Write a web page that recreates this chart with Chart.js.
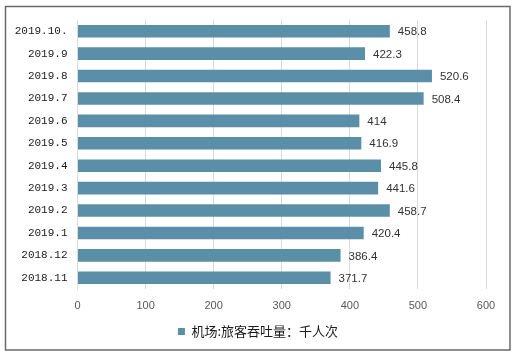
<!DOCTYPE html>
<html><head><meta charset="utf-8">
<script src="https://cdn.jsdelivr.net/npm/chart.js@4/dist/chart.umd.min.js"></script>
<style>html,body{margin:0;padding:0;background:#fff}#w{width:516px;height:358px}</style>
</head><body><div id="w"><canvas id="c" width="516" height="358"></canvas></div>
<script>
const categories = ["2019.10.","2019.9","2019.8","2019.7","2019.6","2019.5","2019.4","2019.3","2019.2","2019.1","2018.12","2018.11"];
const values = [458.8,422.3,520.6,508.4,414,416.9,445.8,441.6,458.7,420.4,386.4,371.7];
const valueLabels = ["458.8","422.3","520.6","508.4","414","416.9","445.8","441.6","458.7","420.4","386.4","371.7"];
const seriesName = "机场:旅客吞吐量：千人次";
const xTicks = [0,100,200,300,400,500,600];

const frame = {
  id:'frame',
  beforeDraw(chart){
    const ctx=chart.ctx; ctx.save();
    ctx.fillStyle='#fff'; ctx.fillRect(0,0,chart.width,chart.height);
    ctx.strokeStyle='#6a6a6a'; ctx.lineWidth=1.5;
    ctx.strokeRect(5.5,6.5,504.5,343.5);
    ctx.restore();
    // center legend on the whole canvas instead of the padded area
    const lg = chart.legend;
    if (lg && !lg._shifted) { lg.left += 15; lg.right += 15; lg._shifted = true; }
  }
};
const dataLabels = {
  id:'dataLabels',
  afterDatasetsDraw(chart){
    const ctx=chart.ctx; const meta=chart.getDatasetMeta(0);
    ctx.save();
    ctx.font='11.5px "Liberation Sans", Arial, sans-serif';
    ctx.fillStyle='#333'; ctx.textAlign='left'; ctx.textBaseline='middle';
    meta.data.forEach((el,i)=>{ ctx.fillText(valueLabels[i], el.x+8, el.y+1); });
    ctx.restore();
  }
};

new Chart(document.getElementById('c'),{
  type:'bar',
  data:{labels:categories,datasets:[{label:seriesName,data:values,backgroundColor:'#5b8fa7',borderWidth:0,barPercentage:0.56,categoryPercentage:1}]},
  options:{
    indexAxis:'y',responsive:false,animation:false,devicePixelRatio:1,
    layout:{padding:{top:20,right:30,left:0,bottom:10}},
    scales:{
      x:{min:0,max:600,
        afterBuildTicks(s){ s.ticks = xTicks.map(v=>({value:v})); },
        afterFit(s){ s.height=28; },
        grid:{color:'#d9d9d9',drawTicks:false,lineWidth:1},
        border:{display:false},
        ticks:{padding:10,color:'#595959',font:{family:'"Liberation Sans", Arial, sans-serif',size:11}}
      },
      y:{
        afterFit(s){ s.width=77.5; },
        grid:{display:false,drawTicks:false},
        border:{display:true,color:'#d9d9d9'},
        ticks:{padding:10,color:'#1a1a1a',font:{family:'"Liberation Mono", monospace',size:11}}
      }
    },
    plugins:{
      legend:{position:'bottom',labels:{boxWidth:7,boxHeight:7,padding:8,color:'#1a1a1a',font:{family:'"Noto Sans CJK SC", sans-serif',size:13}}},
      tooltip:{enabled:false}
    }
  },
  plugins:[frame,dataLabels]
});
</script></body></html>
